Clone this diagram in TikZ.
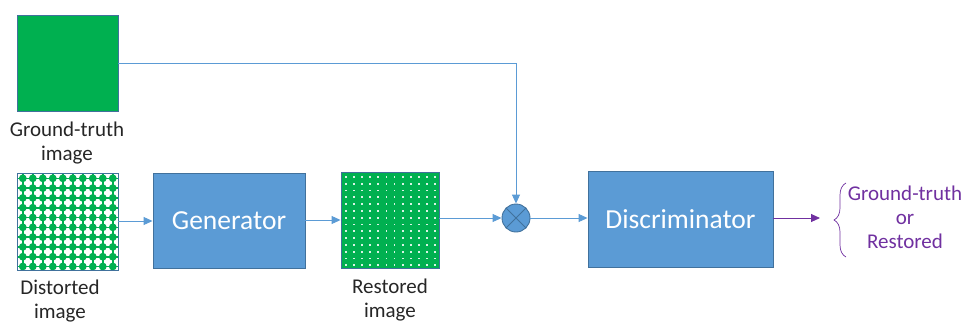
\documentclass[tikz,border=0pt]{standalone}
\usepackage{fontspec}
\setmainfont{Carlito}
\usetikzlibrary{arrows.meta,decorations.pathreplacing}
\definecolor{imggreen}{HTML}{00B050}
\definecolor{boxblue}{HTML}{5B9BD5}
\definecolor{edgeblue}{HTML}{41719C}
\definecolor{outpurple}{HTML}{7030A0}
\definecolor{labelgray}{HTML}{262626}
\tikzset{
  imgbox/.style={draw=edgeblue, line width=0.9pt, rectangle, inner sep=0pt},
  blockbox/.style={draw=edgeblue, line width=0.9pt, fill=boxblue, rectangle, inner sep=0pt,
    text=white, font=\fontsize{27.5}{30}\selectfont},
  caption/.style={text=labelgray, font=\fontsize{21}{24}\selectfont, align=center, inner sep=0pt},
  conn/.style={draw=boxblue, line width=0.9pt},
  arr/.style={conn, -{Triangle[length=9pt,width=8pt]}},
}
\begin{document}
\begin{tikzpicture}[x=1pt,y=-1pt]
\useasboundingbox (0,0) rectangle (964,322);

% ground-truth image
\node[imgbox, fill=imggreen, minimum width=101pt, minimum height=96pt] (gt) at (67.5,63) {};
\node[caption] (gtlbl) at (67,143) {Ground-truth\\image};

% distorted image: green lattice of dots on white
\node[imgbox, fill=white, minimum width=101pt, minimum height=97pt] (dist) at (67.5,221.5) {};
\begin{scope}
  \clip (dist.south west) rectangle (dist.north east);
  \foreach \i in {0,...,9} {
    \fill[imggreen] (22+\i*10,173) rectangle (23.6+\i*10,270);
    \fill[imggreen] (17,177.5+\i*9.8) rectangle (118,179.1+\i*9.8);
    \foreach \j in {0,...,9} {
      \fill[imggreen] (22.8+\i*10,178.3+\j*9.8) circle (3.9);
    }
  }
\end{scope}
\node[imgbox, minimum width=101pt, minimum height=97pt] at (dist) {};
\node[caption] (distlbl) at (60,301) {Distorted\\image};

% generator
\node[blockbox, minimum width=152pt, minimum height=95pt] (gen) at (229,220.5) {Generator};

% restored image: green with fine white dots
\node[imgbox, fill=imggreen, minimum width=98pt, minimum height=96pt] (rest) at (390,220) {};
\begin{scope}
  \clip (rest.south west) rectangle (rest.north east);
  \foreach \i in {0,...,11} {
    \foreach \j in {0,...,13} {
      \fill[white!85!imggreen] (345+\i*8.1,176+\j*6.8) rectangle +(1.8,1.8);
    }
  }
\end{scope}
\node[imgbox, minimum width=98pt, minimum height=96pt] at (rest) {};
\node[caption] (restlbl) at (390,300) {Restored\\image};

% mixing junction
\node[circle, draw=edgeblue, fill=boxblue, line width=0.9pt, minimum size=28pt, inner sep=0pt] (mix) at (516,218) {};
\draw[edgeblue, line width=0.9pt] (mix.north west) -- (mix.south east)
                                   (mix.north east) -- (mix.south west);

% discriminator
\node[blockbox, minimum width=185pt, minimum height=96pt] (disc) at (680.5,219) {Discriminator};

% output labels
\node[caption, text=outpurple] (out) at (905,217) {Ground-truth\\or\\Restored};
\coordinate (outtip) at (820,218);
\coordinate (bracetop) at (846,183);
\coordinate (bracebot) at (846,257);

% connectors
\draw[arr] (dist.east |- 0,221) -- (gen.west |- 0,221);
\draw[arr] (gen.east |- 0,220) -- (rest.west |- 0,220);
\draw[arr] (rest.east |- mix) -- (mix.west);
\draw[conn] (gt.east) -| (516,150);
\draw[arr] (516,150) -- (mix.north);
\draw[arr] (mix.east) -- (disc.west |- mix);
\draw[outpurple, line width=0.9pt, -{Triangle[length=9pt,width=8pt]}] (disc.east |- outtip) -- (outtip);
\draw[outpurple, line width=0.7pt, decorate, decoration={brace, amplitude=12pt}] (bracebot) -- (bracetop);
\end{tikzpicture}
\end{document}
